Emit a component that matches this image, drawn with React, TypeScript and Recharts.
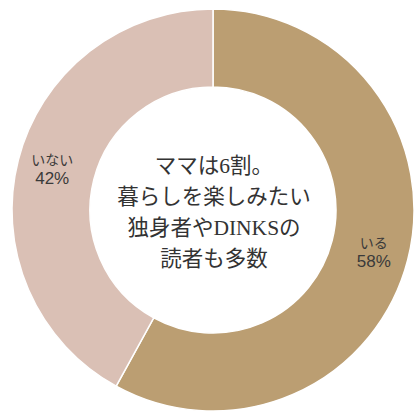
import React from 'react';
import { PieChart, Pie, Cell } from 'recharts';

const categories = ['いる', 'いない'];
const values = [58, 42];
const colors = ['#bb9e72', '#dac0b5'];
const centerLines = ['ママは6割。', '暮らしを楽しみたい', '独身者やDINKSの', '読者も多数'];

const data = categories.map((name, i) => ({ name, value: values[i] }));

const RAD = Math.PI / 180;

const renderLabel = (props: any) => {
  const { cx, cy, midAngle, innerRadius, outerRadius, name, value } = props;
  const r = (innerRadius + outerRadius) / 2 + 4;
  const x = cx + r * Math.cos(-midAngle * RAD);
  const y = cy + r * Math.sin(-midAngle * RAD);
  return (
    <g>
      <text
        x={x}
        y={y - 9.5}
        textAnchor="middle"
        dominantBaseline="central"
        fill="#3a3a3a"
        fontSize={14}
        fontFamily="'Noto Sans CJK JP', sans-serif"
      >
        {name}
      </text>
      <text
        x={x}
        y={y + 10}
        textAnchor="middle"
        dominantBaseline="central"
        fill="#3a3a3a"
        fontSize={17}
        fontFamily="'Liberation Sans', Arial, sans-serif"
      >
        {`${value}%`}
      </text>
    </g>
  );
};

export default function App() {
  const cx = 213;
  const cy = 210;
  const lineGap = 31;
  return (
    <div style={{ position: 'absolute', left: 0, top: 0, width: 416, height: 415, background: '#fff' }}>
      <PieChart width={416} height={415} margin={{ top: 0, right: 0, bottom: 0, left: 0 }}>
        <Pie
          data={data}
          dataKey="value"
          nameKey="name"
          cx={cx}
          cy={cy}
          innerRadius={123}
          outerRadius={201}
          startAngle={90}
          endAngle={-270}
          stroke="#ffffff"
          strokeWidth={1.5}
          label={renderLabel}
          labelLine={false}
          isAnimationActive={false}
        >
          {data.map((d, i) => (
            <Cell key={d.name} fill={colors[i]} />
          ))}
        </Pie>
        <text
          x={cx + 1}
          y={cy}
          textAnchor="middle"
          fill="#333333"
          fontSize={21.5}
          fontFamily="'Liberation Serif', 'Noto Sans CJK JP', serif"
        >
          {centerLines.map((line, i) => (
            <tspan
              key={i}
              x={cx + 1}
              y={cy + 2 + (i - (centerLines.length - 1) / 2) * lineGap}
              dominantBaseline="central"
            >
              {line}
            </tspan>
          ))}
        </text>
      </PieChart>
    </div>
  );
}
